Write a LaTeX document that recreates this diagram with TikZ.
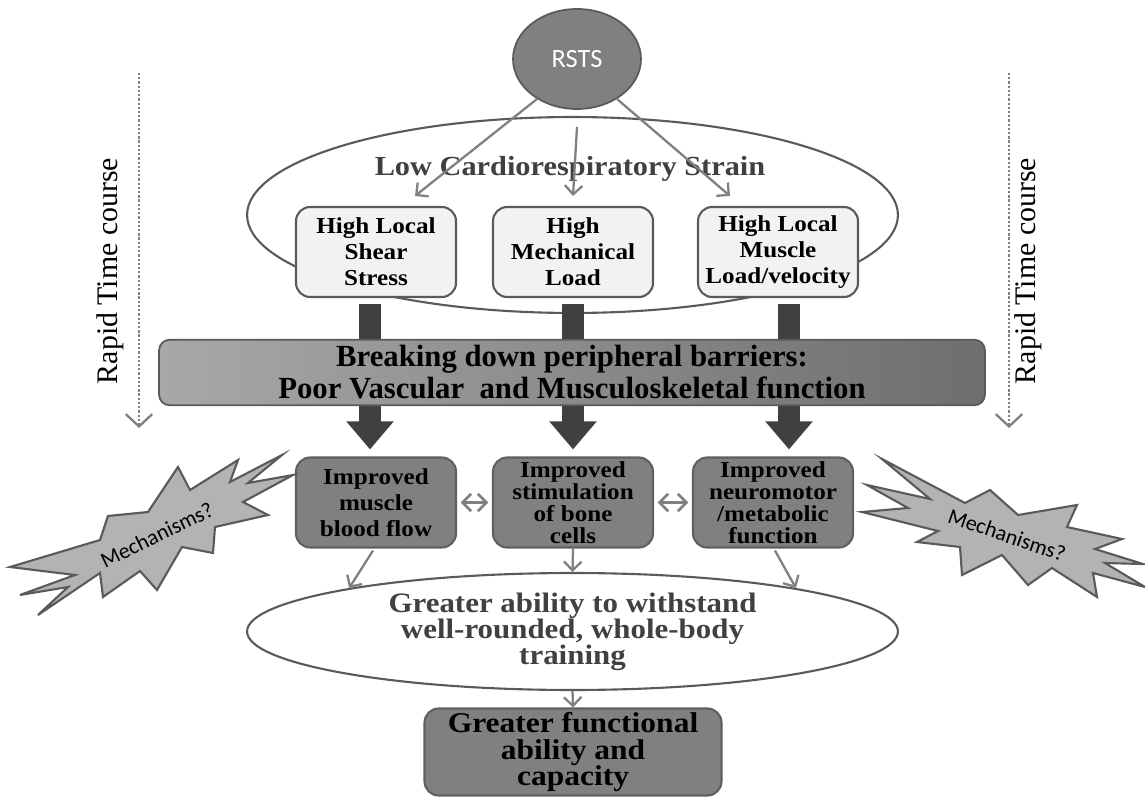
\documentclass[tikz,border=0pt]{standalone}
\usepackage{fontspec}
\setmainfont{Liberation Serif}
\newfontfamily\cambfont[FakeStretch=1.1]{Liberation Serif}
\newfontfamily\calfont{Carlito}
\usetikzlibrary{shapes.geometric, arrows.meta, positioning, calc}

\definecolor{edgegray}{HTML}{5A5A5A}
\definecolor{lightbox}{HTML}{F2F2F2}
\definecolor{midbox}{HTML}{808080}
\definecolor{darkarrow}{HTML}{404040}
\definecolor{arrowgray}{HTML}{808080}
\definecolor{burstgray}{HTML}{B3B3B3}
\definecolor{ovaltext}{HTML}{404040}
\definecolor{bandleft}{HTML}{A8A8A8}
\definecolor{bandright}{HTML}{6E6E6E}

\tikzset{
  hibox/.style={draw=edgegray, fill=lightbox, rounded corners=8pt, line width=1.2pt, minimum width=3.2cm, minimum height=1.8cm, align=center, inner sep=0pt, font=\cambfont\bfseries\fontsize{13}{14.8}\selectfont},
  imbox/.style={hibox, fill=midbox, draw=midbox!75!black},
  ovalnode/.style={ellipse, draw=edgegray, fill=white, line width=1.2pt, minimum width=13.02cm, minimum height=3.92cm, inner sep=0pt},
  grayarrow/.style={draw=arrowgray, line width=1.3pt, -{Straight Barb[length=5pt,width=10pt]}},
  twoway/.style={draw=arrowgray, line width=1.5pt, {Straight Barb[length=5pt,width=10pt]}-{Straight Barb[length=5pt,width=10pt]}, shorten <=2pt, shorten >=2pt},
  fat/.style={draw=darkarrow, line width=12pt, -{Triangle[length=16pt,width=26pt]}},
  barrierbar/.style={draw=edgegray, line width=1pt, rounded corners=6pt, left color=bandleft, right color=bandright, minimum width=16.52cm, minimum height=1.3cm, align=center, font=\bfseries\fontsize{17.5}{18.2}\selectfont},
  burstshape/.style={fill=burstgray, draw=edgegray, line width=1.2pt, line join=miter},
  bursttext/.style={font=\calfont\fontsize{12.5}{14}\selectfont, inner sep=0pt},
  timeline/.style={draw=arrowgray, line width=1.3pt, dash pattern=on 1.3pt off 1.1pt, -{Straight Barb[length=7pt,width=15pt]}},
  timetext/.style={font=\fontsize{17}{20}\selectfont, inner sep=0pt}
}

\begin{document}
\begin{tikzpicture}[x=0.02cm, y=-0.02cm]
\useasboundingbox (0,0) rectangle (1145,797);

% Upper oval with the three stimuli
\node[ovalnode] (lcs) at (572.5,215) {};
\node[font=\cambfont\bfseries\fontsize{15.7}{18}\selectfont, text=ovaltext] (lcstext) at (570,169) {Low Cardiorespiratory Strain};
\node[hibox] (hi1) at (376,252) {High Local\\Shear\\Stress};
\node[hibox] (hi2) at (573,252) {High\\Mechanical\\Load};
\node[hibox] (hi3) at (778,252) {High Local\\Muscle\\Load/velocity};

\node[ellipse, fill=midbox, draw=edgegray, line width=1pt, minimum width=2.56cm, minimum height=2cm, text=white, font=\calfont\fontsize{15}{17}\selectfont] (rsts) at (577,59) {RSTS};
\draw[grayarrow] (rsts.225) -- ($(hi1.north)+(39,-10)$);
\draw[grayarrow] ($(rsts.south)+(0,17)$) -- ($(hi2.north)+(0,-10)$);
\draw[grayarrow] (rsts.315) -- ($(hi3.north)+(-48,-10)$);

% Improved functions
\node[imbox] (im1) at (376,502.5) {Improved\\muscle\\blood flow};
\node[imbox, font=\cambfont\bfseries\fontsize{13}{12.6}\selectfont] (im2) at (573,502.5) {Improved\\stimulation\\of bone\\cells};
\node[imbox, font=\cambfont\bfseries\fontsize{13}{12.6}\selectfont] (im3) at (773,502.5) {Improved\\neuromotor\\/metabolic\\function};
\draw[twoway] (im1.east) -- (im2.west);
\draw[twoway] (im2.east) -- (im3.west);

% Thick arrows behind the barrier band
\draw[fat] ($(hi1.south)+(-6,6)$) -- ($(im1.north)+(-6,-7)$);
\draw[fat] ($(hi2.south)+(0,6)$) -- ($(im2.north)+(0,-7)$);
\draw[fat] ($(hi3.south)+(11,6)$) -- ($(im3.north)+(16,-7)$);
\node[barrierbar] (band) at (572,372.5) {Breaking down peripheral barriers:\\Poor Vascular~ and Musculoskeletal function};

% Mechanisms
\filldraw[burstshape] (293,475) -- (248,483) -- (282,455) -- (230,482) -- (238,460) -- (190,490) -- (178,467) -- (148,512) -- (108,516) -- (100,540) -- (10,567) -- (75,575) -- (20,595) -- (68,587) -- (38,615) -- (100,573) -- (103,597) -- (140,571) -- (157,590) -- (182,547) -- (213,553) -- (215,527) -- (268,515) -- (243,502) -- cycle;
\node[bursttext, rotate=26] (mech1) at (157,535) {Mechanisms?};
\filldraw[burstshape] (862,512) -- (908,508) -- (867,485) -- (930,499) -- (882,459) -- (965,503) -- (990,490) -- (1018,515) -- (1077,505) -- (1067,527) -- (1122,539) -- (1095,549) -- (1143,564) -- (1105,563) -- (1145,587) -- (1093,573) -- (1097,597) -- (1052,568) -- (1028,585) -- (1002,555) -- (962,575) -- (960,547) -- (917,542) -- (938,531) -- cycle;
\node[bursttext, rotate=-19] (mech2) at (1007,535) {Mechanisms?};

% Outcome
\node[ovalnode, minimum height=2.34cm, text=ovaltext, align=center, font=\cambfont\bfseries\fontsize{16}{14.8}\selectfont] (gab) at (572.5,631.5) {Greater ability to withstand\\well-rounded, whole-body\\training};
\node[imbox, minimum width=5.94cm, minimum height=1.74cm, font=\cambfont\bfseries\fontsize{16.3}{15}\selectfont] (gfa) at (573,752) {Greater functional\\ability and\\capacity};
\draw[grayarrow] ($(im1.south)+(-3,2)$) -- (gab.169);
\draw[grayarrow] (im2.south) -- (gab.north);
\draw[grayarrow] ($(im3.south)+(2,2)$) -- (gab.11);
\draw[grayarrow] (gab.south) -- (gfa.north);

% Time course
\coordinate (t1) at (139,73);
\coordinate (t2) at (139,428);
\coordinate (t3) at (1009,73);
\coordinate (t4) at (1009,428);
\draw[timeline] (t1) -- (t2);
\draw[timeline] (t3) -- (t4);
\node[timetext, rotate=90] (rtc1) at (110,271) {Rapid Time course};
\node[timetext, rotate=90] (rtc2) at (1028,271) {Rapid Time course};
\end{tikzpicture}
\end{document}
